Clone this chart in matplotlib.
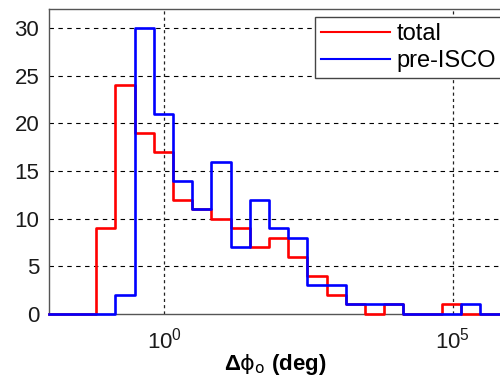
import numpy as np
import matplotlib
matplotlib.use("Agg")
import matplotlib.pyplot as plt

plt.rcParams["font.family"] = ["Liberation Sans", "DejaVu Sans"]
plt.rcParams["mathtext.fontset"] = "dejavusans"
plt.rcParams["mathtext.default"] = "regular"

# Histogram (log10 bins)
log_edges = np.linspace(-1.18, 5.47, 21)
total =    [9, 24, 19, 17, 12, 11, 10, 9, 7, 8, 6, 4, 2, 1, 0, 1, 0, 0, 1, 0]
pre_isco = [0, 2, 30, 21, 14, 11, 16, 7, 12, 9, 8, 3, 3, 1, 1, 1, 0, 0, 0, 1]

x_lim = (1e-2, 1e6)
y_ticks = [0, 5, 10, 15, 20, 25, 30]
x_ticks = [1e0, 1e5]

fig = plt.figure(figsize=(5, 3.8), dpi=100)
ax = fig.add_axes([49 / 500, 1 - 314 / 380, (510.6 - 49) / 500, (314 - 9) / 380])

edges = 10 ** log_edges
xs = np.concatenate([[x_lim[0]], edges, [x_lim[1]]])


def step_line(counts, color, label, z):
    ys = np.concatenate([[0], counts, [0, 0]])
    ax.step(xs, ys, where="post", color=color, lw=1.9, label=label,
            zorder=z, clip_on=False)


step_line(total, "#ff0000", "total", 3)
step_line(pre_isco, "#0000ff", "pre-ISCO", 4)

ax.set_xscale("log")
ax.set_xlim(*x_lim)
ax.set_ylim(0, 32)
ax.set_yticks(y_ticks)
ax.set_xticks(x_ticks)
ax.minorticks_off()
ax.tick_params(axis="both", length=0, labelsize=16, colors="#1a1a1a")
ax.tick_params(axis="x", pad=10)
ax.tick_params(axis="y", pad=7)

for y in y_ticks[1:]:
    ax.axhline(y, color="black", lw=0.8, ls=(0, (4, 4)), zorder=1)
for x in x_ticks:
    ax.axvline(x, color="#222222", lw=0.9, ls=(0, (2.5, 2.5)), zorder=1)

for s in ax.spines.values():
    s.set_color("#555555")
    s.set_linewidth(1.0)

ax.set_xlabel(r"$\Delta\mathrm{\phi}_\mathrm{o}$ (deg)", fontsize=16,
              fontweight="bold")
ax.xaxis.set_label_coords(0.49, -0.125)

leg = ax.legend(loc="upper right", fontsize=17, handlelength=2.9,
                handletextpad=0.3, borderaxespad=0.35, fancybox=False,
                framealpha=1, borderpad=0.25, labelspacing=0.2,
                bbox_to_anchor=(1.0, 1.0))
leg.get_frame().set_edgecolor("#444444")
leg.get_frame().set_linewidth(1.0)
for h in leg.get_lines():
    h.set_linewidth(1.5)

fig.savefig("out.png", dpi=100)
